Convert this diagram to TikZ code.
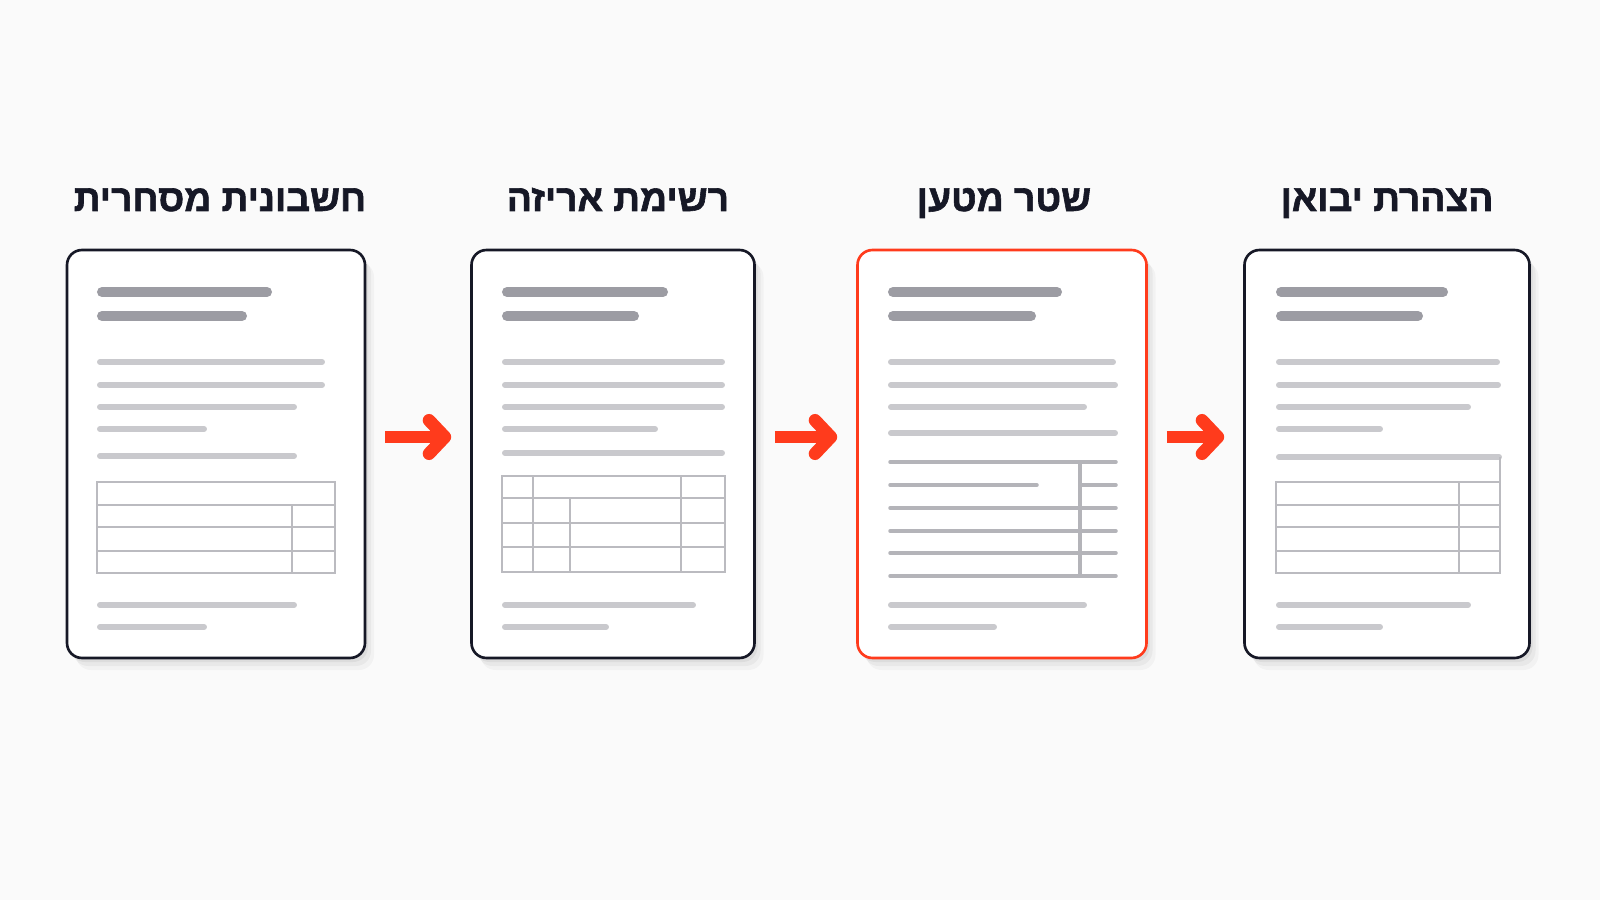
\documentclass[tikz,border=0pt]{standalone}
\usepackage{fontspec}
\newfontfamily\hebfont[Script=Hebrew,UprightFont={* Bold},FakeBold=1.6]{Liberation Sans}
\TeXXeTstate=1
\usetikzlibrary{arrows.meta,shadows,positioning}
\definecolor{bgc}{HTML}{FAFAFA}
\definecolor{ink}{HTML}{161826}
\definecolor{flowred}{HTML}{FF3B1C}
\definecolor{headgray}{HTML}{9C9CA3}
\definecolor{textgray}{HTML}{C9C9CD}
\definecolor{gridgray}{HTML}{BBBBC0}
\definecolor{rulegray}{HTML}{B4B4B9}
\begin{document}
\begin{tikzpicture}[x=0.1mm,y=-0.1mm,
	doc/.style={draw=ink,line width=0.75pt,fill=white,rounded corners=1.5mm,inner sep=0,minimum height=40.8mm,
		drop shadow={shadow xshift=0.9mm,shadow yshift=-1.2mm,opacity=0.03,fill=black},
		drop shadow={shadow xshift=0.6mm,shadow yshift=-0.8mm,opacity=0.04,fill=black},
		drop shadow={shadow xshift=0.3mm,shadow yshift=-0.4mm,opacity=0.05,fill=black}},
	title/.style={font=\hebfont\fontsize{10.6}{12}\selectfont,text=ink,anchor=base,inner sep=0},
	hbar/.style={draw=headgray,line width=2.85pt,line cap=round},
	tbar/.style={draw=textgray,line width=1.7pt,line cap=round},
	grid/.style={draw=gridgray,line width=0.7pt},
	rule/.style={draw=rulegray,line width=1pt,line cap=round},
	flow/.style={draw=flowred,line width=3.6pt,-{Straight Barb[length=4.5pt,width=9.5pt,line join=round,line cap=round]},shorten <=1.9mm,shorten >=1.9mm}]
	\fill[bgc] (0,0) rectangle (1600,900);
	% documents
	\node[doc,minimum width=29.8mm] (d1) at (216,454){};
	\node[doc,minimum width=28.3mm] (d2) at (613,454){};
	\node[doc,minimum width=28.9mm,draw=flowred] (d3) at (1002,454){};
	\node[doc,minimum width=28.5mm] (d4) at (1387,454){};
	% titles
	\node[title] (t1) at (220,211){\beginR חשבונית מסחרית\endR};
	\node[title] (t2) at (618,211){\beginR רשימת אריזה\endR};
	\node[title] (t3) at (1004,211){\beginR שטר מטען\endR};
	\node[title] (t4) at (1387,211){\beginR הצהרת יבואן\endR};
	% doc 1
	\draw[hbar] (102,292)--(267,292) (102,316)--(242,316);
	\foreach \y/\b in {362/322,385/322,407/294,429/204,456/294,605/294,627/204}
		\draw[tbar] (100,\y)--(\b,\y);
	\draw[grid] (97,482) rectangle (335,573);
	\foreach \y in {505,527,551} \draw[grid] (97,\y)--(335,\y);
	\draw[grid] (292,505)--(292,573);
	% doc 2
	\draw[hbar] (507,292)--(663,292) (507,316)--(634,316);
	\foreach \y/\b in {362/722,385/722,407/722,429/655,453/722,605/693,627/606}
		\draw[tbar] (505,\y)--(\b,\y);
	\draw[grid] (502,476) rectangle (725,572);
	\foreach \y in {498,523,547} \draw[grid] (502,\y)--(725,\y);
	\draw[grid] (533,476)--(533,572) (570,498)--(570,572) (681,476)--(681,572);
	% doc 3
	\draw[hbar] (893,292)--(1057,292) (893,316)--(1031,316);
	\foreach \y/\b in {362/1113,385/1115,407/1084,433/1115,605/1084,627/994}
		\draw[tbar] (891,\y)--(\b,\y);
	\foreach \y in {462,508,531,553,576} \draw[rule] (890,\y)--(1116,\y);
	\draw[rule] (890,485)--(1037,485) (1082,485)--(1116,485);
	\draw[rule] (1080,462)--(1080,576);
	% doc 4
	\draw[hbar] (1281,292)--(1443,292) (1281,316)--(1418,316);
	\foreach \y/\b in {362/1497,385/1498,407/1468,429/1380,605/1468,627/1380}
		\draw[tbar] (1279,\y)--(\b,\y);
	\draw[tbar] (1279,457)--(1499,457);
	\draw[grid] (1500,457)--(1500,573);
	\draw[grid] (1276,482) rectangle (1500,573);
	\foreach \y in {505,527,551} \draw[grid] (1276,\y)--(1500,\y);
	\draw[grid] (1459,482)--(1459,573);
	% arrows
	\draw[flow] ([yshift=1.7mm]d1.east)--([yshift=1.7mm]d2.west);
	\draw[flow] ([yshift=1.7mm]d2.east)--([yshift=1.7mm]d3.west);
	\draw[flow] ([yshift=1.7mm]d3.east)--([yshift=1.7mm]d4.west);
\end{tikzpicture}
\end{document}
